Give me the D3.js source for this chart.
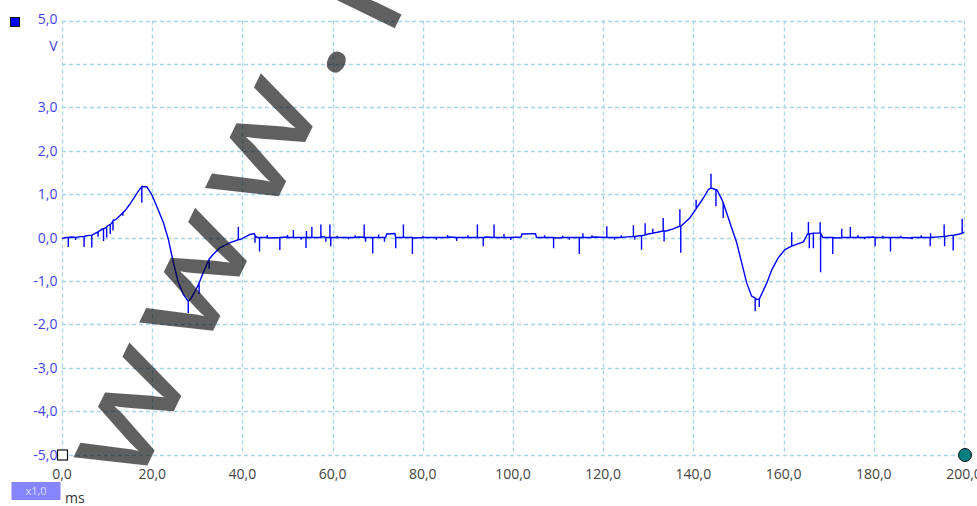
<!DOCTYPE html>
<html>
<head>
<meta charset="utf-8">
<script src="https://cdn.jsdelivr.net/npm/d3@7"></script>
<style>
  html, body { margin: 0; padding: 0; background: #fff; overflow: hidden; }
  svg { display: block; }
  text { font-family: "Open Sans", "DejaVu Sans", sans-serif; }
</style>
</head>
<body>
<script>
// x axis (ms) and y axis (V) ticks
const xTicks = [0, 20, 40, 60, 80, 100, 120, 140, 160, 180, 200];
const yTicks = [-5, -4, -3, -2, -1, 0, 1, 2, 3, 4, 5];
const yLabelTicks = [-5, -4, -3, -2, -1, 0, 1, 2, 3, 5];

// smooth part of the trace
const timeMs = [
  0, 1, 2, 3, 4, 5, 6, 7, 8, 9, 10, 11, 12, 13, 14, 15, 16, 17, 17.7, 18.8,
  19.9, 21, 22.5, 23.6, 24.7, 25.8, 26.9, 28, 28.7, 29.9, 31, 32.1, 33.5, 35, 37.3, 39.5,
  41.7, 42.6, 43.2, 46, 50, 54, 58, 62, 66, 70, 71.8, 72, 73.8, 74, 78, 82, 86, 90,
  94, 98, 101.8, 102, 105, 105.2, 110, 114, 118, 122, 126, 128, 130, 132, 134, 135.5,
  137, 139.2, 140.7, 142.2, 143.3, 144, 145.2, 146.3, 147.4, 148.5, 149.6, 150.7, 151.8,
  152.9, 154, 155.1, 156.3, 157.4, 158.8, 160.3, 162.2, 164.4, 165.3, 166.6, 168.1, 168.7,
  172, 176, 180, 184, 188, 192, 195, 197, 199, 200
];
const volts = [
  -0.02, 0.0, 0.01, 0.0, 0.02, 0.03, 0.05, 0.08, 0.13, 0.2, 0.26, 0.33, 0.42, 0.52, 0.62, 0.76, 0.92, 1.08, 1.17, 1.17,
  0.99, 0.72, 0.34, -0.05, -0.58, -1.04, -1.31, -1.47, -1.39, -1.16, -0.89, -0.62, -0.39, -0.24, -0.12, -0.05,
  0.07, 0.09, 0.0, -0.01, 0.01, 0.0, 0.02, 0.0, 0.01, 0.0, 0.01, 0.08, 0.09, 0.0, -0.01, 0.0, 0.01, 0.0,
  0.01, 0.0, 0.01, 0.08, 0.09, 0.0, -0.01, 0.0, 0.01, 0.0, 0.02, 0.04, 0.08, 0.12, 0.15, 0.2,
  0.26, 0.45, 0.68, 0.91, 1.1, 1.14, 1.1, 0.88, 0.56, 0.22, -0.12, -0.58, -1.04,
  -1.35, -1.43, -1.31, -1.04, -0.74, -0.47, -0.28, -0.18, -0.1, 0.08, 0.1, 0.1, 0.0,
  -0.01, 0.0, 0.01, 0.0, -0.01, 0.0, 0.02, 0.05, 0.08, 0.12
];

// glitches: time, level they leave from, tip level
const spikeTimes = [
  1.4, 3.0, 4.9, 6.6, 8.0, 9.2, 9.9, 10.7, 11.3, 13.5, 17.7, 28.0, 30.4, 32.6, 39.1, 42.8,
  43.8, 45.5, 48.3, 50, 51.3, 53, 54.1, 54.2, 55.4, 57.4, 58.5, 59.4, 59.6, 61, 63.5, 65,
  67, 67.3, 68.9, 70.2, 71.5, 74, 75.7, 77.7, 80, 83, 85.5, 87.5, 90, 92.1, 93.4, 95.8,
  98, 99.5, 107, 109, 111, 112.5, 114.7, 115.5, 117.5, 120.8, 122.5, 124, 126.7, 127,
  128.5, 129.3, 131, 133.3, 133.5, 137, 137.2, 140.6, 143.9, 145, 146.6, 153.7, 154.6,
  161.8, 165.5, 165.7, 166.6, 168.1, 168.2, 170.9, 172.9, 174.8, 176.5, 178, 180.3, 182,
  183.7, 186, 188.5, 190.5, 192.5, 192.6, 195.6, 195.7, 197.6, 199.6
];
const spikeBase = [
  0, 0, 0.02, 0.05, 0.13, 0.2, 0.24, 0.3, 0.38, 0.57, 1.17, -1.47, -1.05, -0.5, -0.05, 0.05,
  0, 0, 0, 0, 0, 0, 0, 0, 0, 0, 0, 0, 0, 0, 0, 0,
  0, 0, 0, 0, 0, 0, 0, 0, 0, 0, 0, 0, 0, 0, 0, 0,
  0, 0, 0, 0, 0, 0, 0, 0, 0, 0, 0, 0, 0.02, 0.02,
  0.04, 0.06, 0.1, 0.15, 0.15, 0.26, 0.26, 0.66, 1.14, 1.1, 0.8, -1.4, -1.42,
  -0.2, 0.08, 0.08, 0.1, 0.1, 0.1, 0, 0, 0, 0, 0, 0, 0,
  0, 0, 0, 0, 0, 0, 0.02, 0.02, 0.05, 0.1
];
const spikeTip = [
  -0.22, -0.06, -0.22, -0.23, 0.02, -0.08, 0.0, 0.08, 0.16, 0.5, 0.8, -1.74, -1.3, -0.72, 0.24, -0.12,
  -0.32, 0.06, -0.29, 0.06, 0.17, -0.05, -0.24, 0.15, 0.24, 0.3, -0.1, 0.3, -0.2, 0.04, -0.04, 0.05,
  0.3, -0.1, -0.37, 0.07, -0.1, -0.25, 0.3, -0.38, 0.04, -0.05, 0.06, -0.08, 0.05, 0.3, -0.2, 0.3,
  0.08, -0.06, 0.05, -0.25, 0.04, -0.05, -0.38, 0.1, 0.05, 0.26, -0.05, 0.05, 0.28, -0.05,
  -0.28, 0.33, 0.2, 0.45, -0.09, 0.65, -0.35, 0.87, 1.47, 0.72, 0.45, -1.7, -1.6,
  0.12, 0.36, -0.25, -0.25, 0.35, -0.8, -0.38, 0.2, 0.24, 0.05, -0.04, -0.2, 0.04,
  -0.32, 0.04, -0.04, 0.05, -0.2, 0.1, 0.3, -0.2, -0.3, 0.43
];

const width = 977;
const height = 506;

const x = d3.scaleLinear().domain([0, 200]).range([62, 964]);
const y = d3.scaleLinear().domain([-5, 5]).range([454.5, 20.5]);

const svg = d3.select("body").append("svg").attr("width", width).attr("height", height);

// grid
const grid = svg.append("g")
  .attr("stroke", "#a9d6e6")
  .attr("stroke-width", 1.3)
  .attr("stroke-dasharray", "4,3");
grid.selectAll(".gx")
  .data(xTicks)
  .enter()
  .append("line")
  .attr("class", "gx")
  .attr("x1", (d) => Math.round(x(d)) + 0.5)
  .attr("x2", (d) => Math.round(x(d)) + 0.5)
  .attr("y1", y(5))
  .attr("y2", y(-5));
grid.selectAll(".gy")
  .data(yTicks)
  .enter()
  .append("line")
  .attr("class", "gy")
  .attr("x1", x(0))
  .attr("x2", x(200))
  .attr("y1", (d) => Math.round(y(d)) + 0.5)
  .attr("y2", (d) => Math.round(y(d)) + 0.5);

// y labels
svg.append("g")
  .selectAll("text")
  .data(yLabelTicks)
  .enter()
  .append("text")
  .attr("x", 57.5)
  .attr("y", (d) => (d === 5 ? y(d) - 2 : y(d)))
  .attr("dy", "0.36em")
  .attr("text-anchor", "end")
  .attr("font-size", 14)
  .attr("fill", "#4343e8")
  .text((d) => d3.format(".1f")(d).replace(".", ",").replace("−", "-"));

svg.append("text")
  .attr("x", 57.5)
  .attr("y", 46)
  .attr("dy", "0.36em")
  .attr("text-anchor", "end")
  .attr("font-size", 14)
  .attr("fill", "#4343e8")
  .text("V");

// x labels
svg.append("g")
  .selectAll("text")
  .data(xTicks)
  .enter()
  .append("text")
  .attr("x", (d) => x(d))
  .attr("y", 479)
  .attr("text-anchor", "middle")
  .attr("font-size", 14)
  .attr("fill", "#444")
  .text((d) => d3.format(".1f")(d).replace(".", ","));

svg.append("text")
  .attr("x", 65)
  .attr("y", 503)
  .attr("font-size", 14)
  .attr("fill", "#333")
  .text("ms");

// zoom badge
svg.append("rect")
  .attr("x", 11.5)
  .attr("y", 482)
  .attr("width", 49)
  .attr("height", 18)
  .attr("fill", "#8585ff");
svg.append("text")
  .attr("x", 36)
  .attr("y", 491)
  .attr("dy", "0.36em")
  .attr("text-anchor", "middle")
  .attr("font-size", 11)
  .attr("fill", "#dcdcff")
  .text("x1,0");

// trace = smooth points plus glitches
const pts = timeMs.map((t, i) => ({ t: t, v: volts[i], k: 0 }));
spikeTimes.forEach((t, i) => {
  pts.push({ t: t, v: spikeBase[i], k: 1 });
  pts.push({ t: t, v: spikeTip[i], k: 2 });
  pts.push({ t: t, v: spikeBase[i], k: 3 });
});
pts.sort((a, b) => a.t - b.t || a.k - b.k);

const line = d3.line()
  .x((d) => x(d.t))
  .y((d) => y(d.v));

svg.append("path")
  .datum(pts)
  .attr("fill", "none")
  .attr("stroke", "#0000ff")
  .attr("stroke-width", 1.4)
  .attr("d", line);

// markers
svg.append("rect")
  .attr("x", 10.5)
  .attr("y", 17.5)
  .attr("width", 9)
  .attr("height", 9)
  .attr("fill", "#0000ff")
  .attr("stroke", "#111");
svg.append("rect")
  .attr("x", 57.5)
  .attr("y", 450)
  .attr("width", 10)
  .attr("height", 10)
  .attr("fill", "#fff")
  .attr("stroke", "#111")
  .attr("stroke-width", 1.2);
svg.append("circle")
  .attr("cx", 965)
  .attr("cy", 455)
  .attr("r", 6.5)
  .attr("fill", "#008080")
  .attr("stroke", "#111");

// watermark
svg.append("g")
  .attr("opacity", 0.62)
  .attr("transform", "translate(135.6,488.2) rotate(-64) scale(1.3,1)")
  .append("text")
  .attr("font-family", "DejaVu Sans")
  .attr("font-size", 128)
  .attr("letter-spacing", 16)
  .attr("fill", "#000")
  .attr("stroke", "#000")
  .attr("stroke-width", 1.5)
  .attr("stroke-linejoin", "miter")
  .text("www.p");
</script>
</body>
</html>
